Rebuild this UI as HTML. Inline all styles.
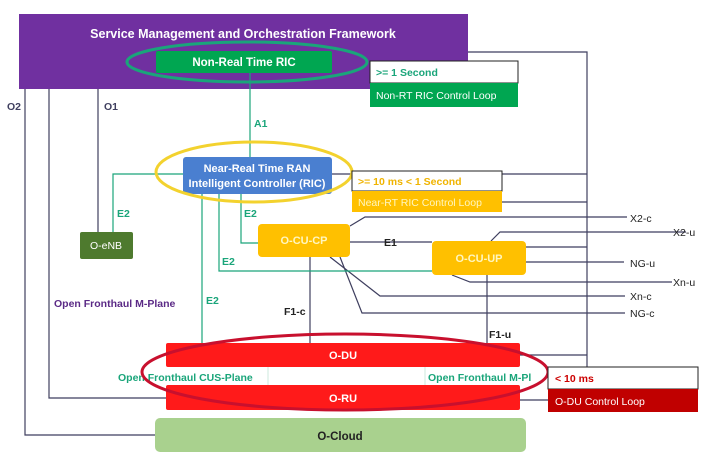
<!DOCTYPE html>
<html><head><meta charset="utf-8"><style>
html,body{margin:0;padding:0;background:#fff}
svg{display:block;font-family:"Liberation Sans",sans-serif}
</style></head><body>
<svg width="709" height="458" viewBox="0 0 709 458" xmlns="http://www.w3.org/2000/svg">
<!-- purple frame -->
<rect x="19" y="14" width="449" height="75" fill="#7030a0"/>
<text x="243" y="38" fill="#fff" font-size="12.5" font-weight="bold" text-anchor="middle">Service Management and Orchestration Framework</text>
<!-- O lines -->
<g stroke="#3f3f5f" stroke-width="1.2" fill="none">
<polyline points="25,89 25,435 155,435"/>
<polyline points="49,89 49,398 166,398"/>
<polyline points="98,89 98,232"/>
<polyline points="468,52 587,52 587,367"/>
<line x1="332" y1="174" x2="587" y2="174"/>
<line x1="502" y1="202" x2="587" y2="202"/>
<line x1="526" y1="247" x2="587" y2="247"/>
<line x1="520" y1="355" x2="587" y2="355"/>
<line x1="520" y1="400" x2="548" y2="400"/>
<polyline points="350,226 365,217 627,217"/>
<polyline points="491,241 500,232 686,232"/>
<line x1="526" y1="262" x2="624" y2="262"/>
<polyline points="452,275 470,282 672,282"/>
<polyline points="330,257 380,296 625,296"/>
<polyline points="340,257 362,313 625,313"/>
<line x1="350" y1="242" x2="432" y2="242"/>
<line x1="310" y1="257" x2="310" y2="343"/>
<line x1="487" y1="275" x2="487" y2="343"/>
</g>
<!-- green lines -->
<g stroke="#1aa57a" stroke-width="1.2" fill="none">
<line x1="250" y1="73" x2="250" y2="157"/>
<polyline points="183,174 113,174 113,232"/>
<polyline points="241,194 241,243 258,243"/>
<polyline points="219,194 219,271 432,271"/>
<line x1="202" y1="194" x2="202" y2="343"/>
</g>
<!-- Non-RT RIC -->
<rect x="156" y="51" width="176" height="22" rx="2" fill="#00a651"/>
<text x="244" y="66" fill="#fff" font-size="11.5" font-weight="bold" text-anchor="middle">Non-Real Time RIC</text>
<ellipse cx="247" cy="62" rx="120" ry="20" fill="none" stroke="#1aa57a" stroke-width="3"/>
<rect x="370" y="61" width="148" height="22" fill="#fff" stroke="#222"/>
<text x="376" y="76" fill="#1aa57a" font-size="10.5" font-weight="bold">&gt;= 1 Second</text>
<rect x="370" y="83" width="148" height="24" fill="#00a651"/>
<text x="376" y="99" fill="#fff" font-size="10.5">Non-RT RIC Control Loop</text>
<!-- labels -->
<g font-size="10.5" font-weight="bold">
<text x="7" y="110" fill="#3f3f5f">O2</text>
<text x="104" y="110" fill="#3f3f5f">O1</text>
<text x="254" y="127" fill="#1aa57a">A1</text>
<text x="117" y="217" fill="#1aa57a">E2</text>
<text x="244" y="217" fill="#1aa57a">E2</text>
<text x="222" y="265" fill="#1aa57a">E2</text>
<text x="206" y="304" fill="#1aa57a">E2</text>
<text x="384" y="246" fill="#222">E1</text>
<text x="284" y="315" fill="#222">F1-c</text>
<text x="489" y="338" fill="#222">F1-u</text>
<text x="54" y="307" fill="#5b2a86">Open Fronthaul M-Plane</text>
<text x="630" y="222" fill="#222" font-weight="normal">X2-c</text>
<text x="673" y="236" fill="#222" font-weight="normal">X2-u</text>
<text x="630" y="267" fill="#222" font-weight="normal">NG-u</text>
<text x="673" y="286" fill="#222" font-weight="normal">Xn-u</text>
<text x="630" y="300" fill="#222" font-weight="normal">Xn-c</text>
<text x="630" y="317" fill="#222" font-weight="normal">NG-c</text>
</g>
<!-- Near RT RIC -->
<rect x="183" y="157" width="149" height="37" rx="3" fill="#4a7fd0"/>
<text x="257" y="172" fill="#fff" font-size="11" font-weight="bold" text-anchor="middle">Near-Real Time RAN</text>
<text x="257" y="187" fill="#fff" font-size="11" font-weight="bold" text-anchor="middle">Intelligent Controller (RIC)</text>
<ellipse cx="254" cy="172" rx="98" ry="30" fill="none" stroke="#f3d22e" stroke-width="3"/>
<rect x="352" y="171" width="150" height="20" fill="#fff" stroke="#222"/>
<text x="358" y="185" fill="#f0b400" font-size="10.5" font-weight="bold">&gt;= 10 ms &lt; 1 Second</text>
<rect x="352" y="191" width="150" height="21" fill="#ffc000"/>
<text x="358" y="206" fill="#fff6c0" font-size="10.5">Near-RT RIC Control Loop</text>
<!-- O-eNB -->
<rect x="80" y="232" width="53" height="27" rx="2" fill="#4e7a2e"/>
<text x="106" y="249" fill="#fff" font-size="10.5" text-anchor="middle">O-eNB</text>
<!-- CU -->
<rect x="258" y="224" width="92" height="33" rx="4" fill="#ffc000"/>
<text x="304" y="244" fill="#fff6c0" font-size="11" font-weight="bold" text-anchor="middle">O-CU-CP</text>
<rect x="432" y="241" width="94" height="34" rx="4" fill="#ffc000"/>
<text x="479" y="262" fill="#fff6c0" font-size="11" font-weight="bold" text-anchor="middle">O-CU-UP</text>
<!-- DU/RU -->
<rect x="166" y="343" width="354" height="24" rx="2" fill="#ff1a1a"/>
<text x="343" y="359" fill="#fff" font-size="11" font-weight="bold" text-anchor="middle">O-DU</text>
<rect x="166" y="367" width="354" height="18" fill="#fff"/>
<line x1="268" y1="367" x2="268" y2="385" stroke="#cde8dc"/>
<line x1="425" y1="367" x2="425" y2="385" stroke="#cde8dc"/>
<text x="118" y="381" fill="#1aa57a" font-size="10.5" font-weight="bold">Open Fronthaul CUS-Plane</text>
<text x="428" y="381" fill="#1aa57a" font-size="10.5" font-weight="bold">Open Fronthaul M-Pl</text>
<rect x="166" y="385" width="354" height="25" rx="2" fill="#ff1a1a"/>
<text x="343" y="402" fill="#fff" font-size="11" font-weight="bold" text-anchor="middle">O-RU</text>
<ellipse cx="345" cy="372" rx="203" ry="38" fill="none" stroke="#c8102e" stroke-width="3"/>
<rect x="548" y="367" width="150" height="22" fill="#fff" stroke="#222"/>
<text x="555" y="382" fill="#c00" font-size="10.5" font-weight="bold">&lt; 10 ms</text>
<rect x="548" y="389" width="150" height="23" fill="#c00000"/>
<text x="555" y="405" fill="#fff" font-size="10.5">O-DU Control Loop</text>
<!-- O-Cloud -->
<rect x="155" y="418" width="371" height="34" rx="5" fill="#a9d18e"/>
<text x="340" y="440" fill="#222" font-size="11.5" font-weight="bold" text-anchor="middle">O-Cloud</text>
</svg>
</body></html>
